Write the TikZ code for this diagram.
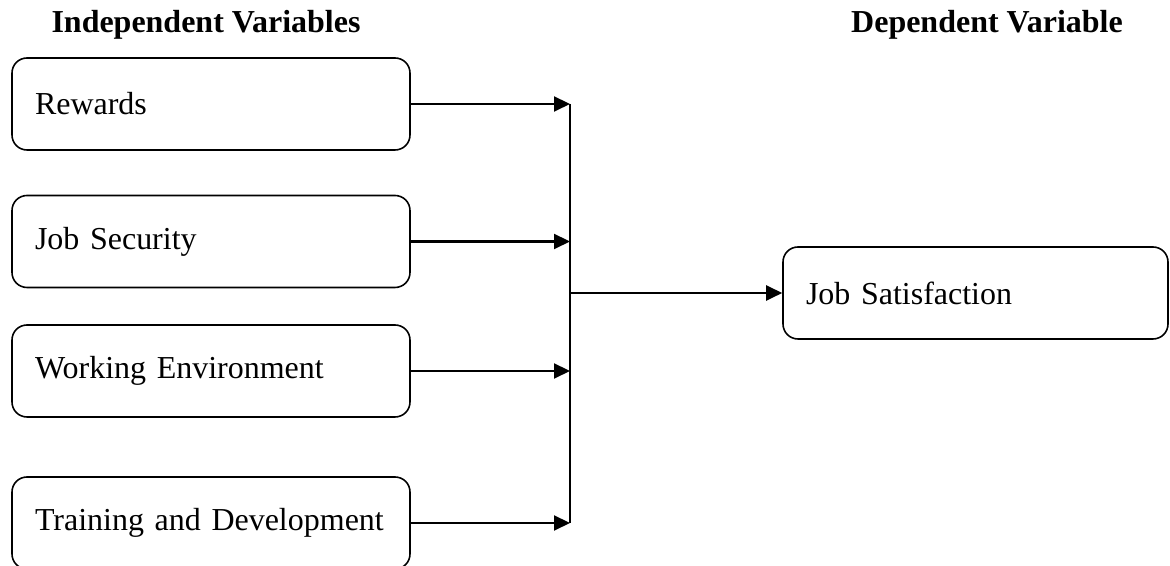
\documentclass[tikz,border=0pt]{standalone}
\usepackage{fontspec}
\setmainfont{Liberation Serif}
\usetikzlibrary{arrows.meta, positioning}
\tikzset{
  varbox/.style={draw, line width=0.9pt, rounded corners=0.3cm,
        minimum height=1.84cm, inner xsep=0.46cm, align=left,
        font=\fontsize{18.2}{22}\selectfont},
  heading/.style={anchor=base, font=\fontsize{18.2}{22}\selectfont\bfseries},
  flow/.style={-{Triangle[length=0.32cm,width=0.3cm]}, line width=1.2pt}
}
\begin{document}
\begin{tikzpicture}
  \useasboundingbox (0,0) rectangle (23.4,11.32);
  % Headings
  \node[heading] (indhead) at (4.12,10.66) {Independent Variables};
  \node[heading] (dephead) at (19.74,10.66) {Dependent Variable};
  % Independent variables
  \node[varbox, text width=7.04cm] (rewards) at (4.22,9.24) {Rewards};
  \node[varbox, text width=7.04cm] (security) at (4.22,6.49) {Job Security};
  \node[varbox, text width=7.04cm] (environment) at (4.22,3.90) {Working Environment};
  \node[varbox, text width=7.04cm] (training) at (4.22,0.86) {Training and Development};
  % Dependent variable
  \node[varbox, text width=6.78cm] (satisfaction) at (19.51,5.46) {Job Satisfaction};
  % Arrows
  \coordinate (bus) at (11.4,0);
  \draw[flow] (rewards.east) -- (rewards.east -| bus);
  \draw[flow] (security.east) -- (security.east -| bus);
  \draw[flow] (environment.east) -- (environment.east -| bus);
  \draw[flow] (training.east) -- (training.east -| bus);
  \draw[line width=1.2pt] (rewards.east -| bus) -- (training.east -| bus);
  \draw[flow] (satisfaction.west -| bus) -- (satisfaction.west);
\end{tikzpicture}
\end{document}
